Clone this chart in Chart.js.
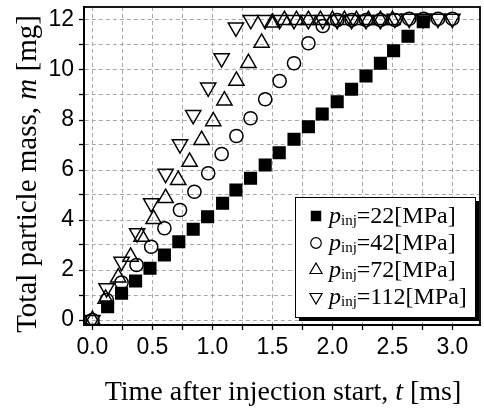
<!DOCTYPE html>
<html>
<head>
<meta charset="utf-8">
<script src="https://cdn.jsdelivr.net/npm/chart.js@4.4.1/dist/chart.umd.min.js"></script>
<style>
  html, body { margin: 0; padding: 0; background: #fff; }
</style>
</head>
<body>
<canvas id="massChart" width="484" height="409"></canvas>
<script>
// time [ms] and particle mass [mg], one pair of arrays per injection pressure
const t22 = [0.127, 0.243, 0.36, 0.48, 0.60, 0.72, 0.84, 0.96, 1.085, 1.196, 1.318, 1.44, 1.557, 1.68, 1.80, 1.915, 2.04, 2.16, 2.28, 2.40, 2.51, 2.63, 2.757];
const m22 = [0.53, 1.07, 1.56, 2.07, 2.6, 3.13, 3.63, 4.13, 4.67, 5.2, 5.67, 6.2, 6.69, 7.23, 7.73, 8.24, 8.73, 9.23, 9.76, 10.27, 10.77, 11.35, 11.93];

const t42 = [0, 0.12, 0.243, 0.368, 0.49, 0.60, 0.73, 0.85, 0.965, 1.077, 1.2, 1.318, 1.44, 1.56, 1.68, 1.80, 1.92, 2.04, 2.16, 2.28, 2.40, 2.52, 2.64, 2.76, 2.88, 3.0];
const m42 = [0, 0.8, 1.5, 2.2, 2.93, 3.67, 4.4, 5.13, 5.87, 6.64, 7.36, 8.07, 8.83, 9.56, 10.27, 11.07, 11.76, 12.0, 12.0, 12.0, 12.0, 12.0, 12.05, 12.05, 12.05, 12.05];

const t72 = [0, 0.11, 0.215, 0.318, 0.41, 0.51, 0.61, 0.715, 0.81, 0.91, 1.007, 1.10, 1.20, 1.30, 1.41, 1.50, 1.60, 1.70, 1.80, 1.90, 2.00, 2.10, 2.20, 2.30, 2.40, 2.50];
const m72 = [0, 0.85, 1.7, 2.53, 3.33, 4.04, 4.88, 5.6, 6.33, 7.2, 7.95, 8.78, 9.57, 10.28, 11.09, 11.9, 12.0, 12.0, 12.0, 12.0, 12.0, 12.0, 12.0, 12.0, 12.0, 12.0];

const t112 = [0, 0.118, 0.243, 0.373, 0.49, 0.61, 0.73, 0.84, 0.965, 1.077, 1.196, 1.32, 1.44, 1.56, 1.68, 1.80, 1.92, 2.04, 2.16, 2.28, 2.40, 2.52, 2.64, 2.76, 2.88, 3.0];
const m112 = [0, 1.27, 2.33, 3.47, 4.67, 5.85, 7.03, 8.2, 9.3, 10.47, 11.7, 12.0, 12.0, 12.0, 12.0, 12.0, 12.0, 12.0, 12.0, 12.0, 12.0, 12.05, 12.05, 12.05, 12.05, 12.05];

const pressures = ['22', '42', '72', '112'];
const xTitle = [['Time after injection start, ', false], ['t', true], [' [ms]', false]];
const yTitle = [['Total particle mass, ', false], ['m', true], [' [mg]', false]];

const serif = '"Liberation Serif", "Times New Roman", serif';
const sans = '"Liberation Sans", Arial, sans-serif';

function toPoints(xs, ys) {
  return xs.map((x, i) => ({ x: x, y: ys[i] }));
}

const markerStyles = [
  { pointStyle: 'rect', radius: 8.2, rotation: 0, fill: '#000' },
  { pointStyle: 'circle', radius: 6.6, rotation: 0, fill: 'rgba(0,0,0,0)' },
  { pointStyle: 'triangle', radius: 8.8, rotation: 0, fill: 'rgba(0,0,0,0)' },
  { pointStyle: 'triangle', radius: 8.8, rotation: 180, fill: 'rgba(0,0,0,0)' }
];

const seriesData = [toPoints(t22, m22), toPoints(t42, m42), toPoints(t72, m72), toPoints(t112, m112)];

const datasets = seriesData.map((pts, i) => ({
  label: 'pinj=' + pressures[i] + '[MPa]',
  data: pts,
  showLine: false,
  pointStyle: markerStyles[i].pointStyle,
  pointRadius: markerStyles[i].radius,
  pointHoverRadius: markerStyles[i].radius,
  pointRotation: markerStyles[i].rotation,
  pointBackgroundColor: markerStyles[i].fill,
  pointBorderColor: '#000',
  pointBorderWidth: 1.5
}));

// draws text made of plain / italic pieces
function drawRich(ctx, parts, x, y, size) {
  const fontOf = it => (it ? 'italic ' : '') + size + 'px ' + serif;
  let total = 0;
  parts.forEach(p => { ctx.font = fontOf(p[1]); total += ctx.measureText(p[0]).width; });
  let cx = x - total / 2;
  ctx.textAlign = 'left';
  ctx.textBaseline = 'alphabetic';
  parts.forEach(p => {
    ctx.font = fontOf(p[1]);
    ctx.fillText(p[0], cx, y);
    cx += ctx.measureText(p[0]).width;
  });
}

const decorations = {
  id: 'decorations',
  afterDatasetsDraw(chart) {
    const ctx = chart.ctx;
    const a = chart.chartArea;
    ctx.save();

    // frame around the plot
    ctx.strokeStyle = '#000';
    ctx.lineWidth = 1.8;
    ctx.strokeRect(a.left, a.top, a.right - a.left, a.bottom - a.top);

    // legend with drop shadow
    const lx = 295, ly = 197, lw = 180, lh = 120;
    ctx.fillStyle = '#000';
    ctx.fillRect(lx + 4, ly + 4, lw, lh);
    ctx.fillStyle = '#fff';
    ctx.fillRect(lx, ly, lw, lh);
    ctx.strokeStyle = '#000';
    ctx.lineWidth = 1;
    ctx.strokeRect(lx + 0.5, ly + 0.5, lw, lh);

    pressures.forEach((p, i) => {
      const base = 223 + i * 27;
      const ms = markerStyles[i];
      ctx.fillStyle = ms.fill;
      ctx.strokeStyle = '#000';
      ctx.lineWidth = 1.2;
      Chart.helpers.drawPoint(ctx, {
        pointStyle: ms.pointStyle,
        radius: ms.radius * 0.8,
        rotation: ms.rotation,
        borderWidth: 1.2
      }, 316, base - 7);

      ctx.fillStyle = '#000';
      ctx.textAlign = 'left';
      ctx.textBaseline = 'alphabetic';
      let x = 329;
      ctx.font = 'italic 24px ' + serif;
      ctx.fillText('p', x, base);
      x += ctx.measureText('p').width;
      ctx.font = '15px ' + serif;
      ctx.fillText('inj', x, base + 2);
      x += ctx.measureText('inj').width;
      ctx.font = '24px ' + serif;
      ctx.fillText('=' + p + '[MPa]', x, base);
    });

    // axis titles
    ctx.fillStyle = '#000';
    drawRich(ctx, xTitle, 283, 400, 28);
    ctx.translate(36, 174);
    ctx.rotate(-Math.PI / 2);
    drawRich(ctx, yTitle, 0, 0, 29);
    ctx.restore();
  }
};

const ctx = document.getElementById('massChart').getContext('2d');

new Chart(ctx, {
  type: 'scatter',
  data: { datasets: datasets },
  options: {
    responsive: false,
    animation: false,
    events: [],
    layout: { padding: { top: 7, right: 4, left: 0, bottom: 0 }, autoPadding: false },
    plugins: { legend: { display: false }, tooltip: { enabled: false } },
    scales: {
      x: {
        type: 'linear',
        min: -0.07,
        max: 3.23,
        afterFit(scale) {
          scale.height = 84;
          scale.paddingLeft = 0;
          scale.paddingRight = 0;
        },
        ticks: {
          stepSize: 0.25,
          includeBounds: false,
          autoSkip: false,
          maxRotation: 0,
          padding: 4,
          color: '#000',
          font: { family: sans, size: 23 },
          callback: v => (Math.abs(v * 2 - Math.round(v * 2)) < 1e-6 ? v.toFixed(1) : '')
        },
        grid: {
          color: '#a8a8a8',
          lineWidth: 1,
          tickColor: '#000',
          tickLength: 5,
          tickWidth: 1.3,
          tickBorderDash: []
        },
        border: { color: '#000', width: 1.8, dash: [4, 3] }
      },
      y: {
        type: 'linear',
        min: -0.2,
        max: 12.52,
        afterFit(scale) {
          scale.width = 84;
          scale.paddingTop = 0;
          scale.paddingBottom = 0;
        },
        ticks: {
          stepSize: 1,
          includeBounds: false,
          autoSkip: false,
          padding: 5,
          color: '#000',
          font: { family: sans, size: 23 },
          callback: v => (v % 2 === 0 ? v : '')
        },
        grid: {
          color: '#a8a8a8',
          lineWidth: 1,
          tickColor: '#000',
          tickLength: 5,
          tickWidth: 1.3,
          tickBorderDash: []
        },
        border: { color: '#000', width: 1.8, dash: [4, 3] }
      }
    }
  },
  plugins: [decorations]
});
</script>
</body>
</html>
